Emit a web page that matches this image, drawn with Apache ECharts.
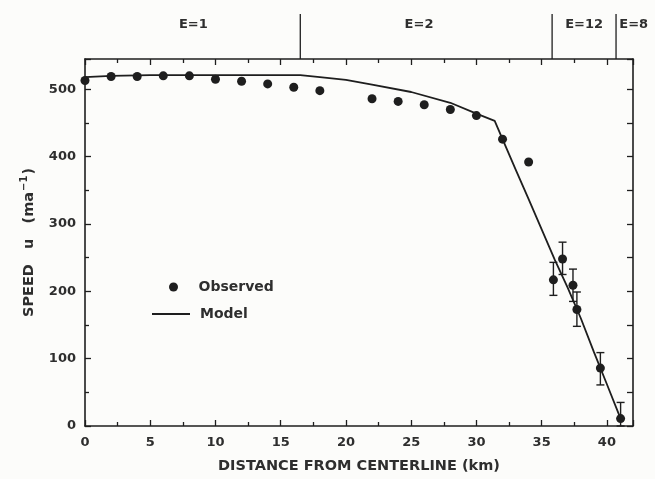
<!DOCTYPE html>
<html>
<head>
<meta charset="utf-8">
<script src="https://cdn.jsdelivr.net/npm/echarts@6/dist/echarts.min.js"></script>
<style>
html,body{margin:0;padding:0;background:#fcfcfa;}
#c{width:655px;height:479px;}
</style>
</head>
<body>
<div id="c"></div>
<script>
// Observed speeds (km from centerline, speed m/a)
const obsX = [0, 2, 4, 6, 8, 10, 12, 14, 16, 18, 22, 24, 26, 28, 30, 32, 34, 35.9, 36.6, 37.4, 37.7, 39.5, 41.05];
const obsY = [513, 519, 519, 520, 520, 515, 512, 508, 503, 498, 486, 482, 477, 470, 461, 426, 392, 217, 248, 209, 173, 86, 11];
// Error bars
const errX = [35.9, 36.6, 37.4, 37.7, 39.5, 41.05];
const errLow = [194, 225, 185, 148, 61, 0];
const errHigh = [243, 273, 233, 199, 109, 35];
// Model curve
const modelX = [0, 2, 5, 10, 15, 16.5, 18, 20, 22, 25, 28, 30, 31.4, 32, 33, 34, 35, 36, 37, 38, 39, 40, 41.05];
const modelY = [518, 520, 521, 521, 521, 521, 518, 514, 507, 496, 480, 464, 453, 426, 381, 337, 292, 247, 205, 160, 110, 62, 11];
// Enhancement-factor zones along top
const zoneBounds = [16.5, 35.8, 40.7];
const zoneLabels = ['E=1', 'E=2', 'E=12', 'E=8'];
const zoneLabelX = [8.3, 25.6, 38.25, 40.95];

const FONT = 'DejaVu Sans';
const INK = '#1e1e1e';
const TXT = '#2e2e2e';

const chart = echarts.init(document.getElementById('c'), null, {renderer: 'canvas'});

const tickStyle = {show: true, inside: true, length: 6, lineStyle: {color: INK, width: 1.3}};
const minorStyle = {show: true, splitNumber: 2, length: 4, lineStyle: {color: INK, width: 1.3}};
const legendText = {fontFamily: FONT, fontSize: 14, fontWeight: 'bold', color: TXT};

chart.setOption({
  backgroundColor: '#fcfcfa',
  animation: false,
  grid: [
    {left: 85, right: 22, top: 59, bottom: 52, show: false},
    {left: 85, right: 22, top: 12, height: 47, show: false}
  ],
  legend: [
    {
      left: 164, top: 275, orient: 'vertical',
      itemWidth: 40, itemHeight: 9,
      textStyle: legendText,
      data: [{name: 'Observed', icon: 'circle'}]
    },
    {
      left: 147, top: 302, orient: 'vertical',
      itemWidth: 38, itemHeight: 2,
      textStyle: Object.assign({padding: [0, 0, 0, 5]}, legendText),
      data: [{name: 'Model', icon: 'rect'}]
    }
  ],
  xAxis: [
    {
      type: 'value', gridIndex: 0, min: 0, max: 42, interval: 5, position: 'bottom',
      name: 'DISTANCE FROM CENTERLINE (km)', nameLocation: 'middle', nameGap: 33,
      nameTextStyle: {fontFamily: FONT, fontSize: 14.5, fontWeight: 'bold', color: TXT},
      axisLine: {show: true, onZero: false, lineStyle: {color: INK, width: 1.6}},
      axisTick: tickStyle, minorTick: minorStyle,
      axisLabel: {fontFamily: FONT, fontSize: 13, fontWeight: 'bold', color: TXT, margin: 10,
        showMaxLabel: false},
      splitLine: {show: false}
    },
    {
      type: 'value', gridIndex: 0, min: 0, max: 42, interval: 5, position: 'top',
      axisLine: {show: true, onZero: false, lineStyle: {color: INK, width: 1.6}},
      axisTick: tickStyle, minorTick: minorStyle,
      axisLabel: {show: false}, splitLine: {show: false}
    },
    {
      type: 'value', gridIndex: 1, min: 0, max: 42, show: false
    }
  ],
  yAxis: [
    {
      type: 'value', gridIndex: 0, min: 0, max: 545, interval: 100, position: 'left',
      name: '{t|SPEED   u   (ma}{s|−1}{t|)}', nameLocation: 'middle', nameGap: 48, nameRotate: 90,
      nameTextStyle: {
        fontFamily: FONT, fontSize: 14, fontWeight: 'bold', color: TXT,
        rich: {
          t: {fontFamily: FONT, fontSize: 14.5, fontWeight: 'bold', color: TXT, lineHeight: 18, verticalAlign: 'bottom'},
          s: {fontFamily: FONT, fontSize: 10, fontWeight: 'bold', color: TXT, lineHeight: 18, verticalAlign: 'top', padding: [0, 1, 0, 1]}
        }
      },
      axisLine: {show: true, onZero: false, lineStyle: {color: INK, width: 1.6}},
      axisTick: tickStyle, minorTick: minorStyle,
      axisLabel: {fontFamily: FONT, fontSize: 13, fontWeight: 'bold', color: TXT, margin: 9,
        showMaxLabel: false},
      splitLine: {show: false}
    },
    {
      type: 'value', gridIndex: 0, min: 0, max: 545, interval: 50, position: 'right',
      axisLine: {show: true, onZero: false, lineStyle: {color: INK, width: 1.6}},
      axisTick: tickStyle,
      axisLabel: {show: false}, splitLine: {show: false}
    },
    {
      type: 'value', gridIndex: 1, min: 0, max: 1, show: false
    }
  ],
  series: [
    {
      name: 'Model', type: 'line', xAxisIndex: 0, yAxisIndex: 0,
      data: modelX.map((x, i) => [x, modelY[i]]),
      symbol: 'none', lineStyle: {color: INK, width: 1.8}, itemStyle: {color: INK},
      z: 3
    },
    {
      name: 'Observed', type: 'scatter', xAxisIndex: 0, yAxisIndex: 0,
      data: obsX.map((x, i) => [x, obsY[i]]),
      symbol: 'circle', symbolSize: 9, itemStyle: {color: INK, opacity: 1},
      clip: false, z: 4
    },
    {
      name: 'errors', type: 'custom', xAxisIndex: 0, yAxisIndex: 0,
      data: errX.map((x, i) => [x, errLow[i], errHigh[i]]),
      renderItem: function (params, api) {
        const x = api.value(0);
        const lo = api.coord([x, api.value(1)]);
        const hi = api.coord([x, api.value(2)]);
        const w = 4;
        const st = {stroke: INK, lineWidth: 1.4};
        return {
          type: 'group',
          children: [
            {type: 'line', shape: {x1: lo[0], y1: lo[1], x2: hi[0], y2: hi[1]}, style: st},
            {type: 'line', shape: {x1: lo[0] - w, y1: lo[1], x2: lo[0] + w, y2: lo[1]}, style: st},
            {type: 'line', shape: {x1: hi[0] - w, y1: hi[1], x2: hi[0] + w, y2: hi[1]}, style: st}
          ]
        };
      },
      z: 3
    },
    {
      name: 'zones', type: 'custom', xAxisIndex: 2, yAxisIndex: 2,
      data: zoneBounds.map(x => [x]),
      renderItem: function (params, api) {
        const top = api.coord([api.value(0), 1]);
        const bot = api.coord([api.value(0), 0]);
        return {type: 'line', shape: {x1: top[0], y1: top[1] + 2, x2: bot[0], y2: bot[1]},
          style: {stroke: INK, lineWidth: 1.3}};
      },
      silent: true
    },
    {
      name: 'zoneLabels', type: 'scatter', xAxisIndex: 2, yAxisIndex: 2,
      data: zoneLabelX.map((x, i) => ({value: [x, 0.74], name: zoneLabels[i],
        label: {align: i === 3 ? 'left' : 'center'}})),
      symbolSize: 0, silent: true, itemStyle: {opacity: 1},
      label: {show: true, position: 'inside', formatter: p => p.name, opacity: 1,
        fontFamily: FONT, fontSize: 13, fontWeight: 'bold', color: TXT}
    }
  ]
});
</script>
</body>
</html>
